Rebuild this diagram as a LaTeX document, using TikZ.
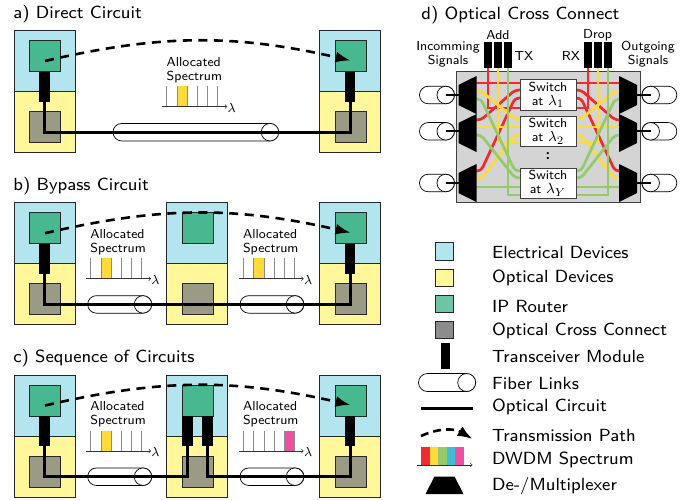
\documentclass[tikz,border=0pt]{standalone}
\usepackage{tikz}
\usetikzlibrary{calc,arrows,arrows.meta,shapes.geometric}
\definecolor{elecblue}{HTML}{B3E5EF}
\definecolor{optyellow}{HTML}{FFF799}
\definecolor{rtrgreen}{HTML}{47B88F}
\definecolor{oxcgray}{HTML}{9A9A85}
\definecolor{wred}{HTML}{EE2B30}
\definecolor{wyellow}{HTML}{FFDA3A}
\definecolor{wgreen}{HTML}{96C96B}
\definecolor{wblue}{HTML}{3FBDD8}
\definecolor{wpink}{HTML}{EF4F9F}
\tikzset{
    >=stealth',
    block/.style={
        rectangle,
        inner sep=0pt,
        draw=black!85,
        line width=0.9pt
    },
    elec/.style={block, fill=elecblue, minimum width=61pt, minimum height=61pt},
    opti/.style={block, fill=optyellow, minimum width=61pt, minimum height=61pt},
    rtr/.style={block, fill=rtrgreen, minimum width=31pt, minimum height=31pt},
    oxc/.style={block, fill=oxcgray, minimum width=31pt, minimum height=31pt},
    tranx/.style={rectangle, inner sep=0pt, fill=black, minimum width=10.7pt, minimum height=30pt},
    fibbody/.style={
        rectangle,
        inner sep=0pt,
        rounded corners=8.7pt,
        draw=black,
        fill=white,
        line width=0.7pt,
        minimum height=17.5pt
    },
    fibend/.style={circle, inner sep=0pt, draw=black, fill=white, line width=0.7pt, minimum size=17.5pt},
    circuit/.style={draw, line width=3pt, line join=miter},
    path/.style={draw, line width=2.6pt, dash pattern=on 9pt off 6.5pt, -{Latex[length=15pt,width=11pt]}},
    tick/.style={draw=black!45, line width=0.9pt},
    axis/.style={draw=black!80, line width=0.7pt, ->, >=to},
    dmx/.style={
        trapezium,
        trapezium stretches=true,
        trapezium angle=66,
        fill=black,
        inner sep=1pt,
        minimum width=38pt,
        minimum height=18pt
    },
    wire/.style={draw, line width=2.7pt},
    small/.style={font=\sffamily\fontsize{8}{8.5}\selectfont, scale=1.63, inner sep=0pt},
    switch/.style={
        rectangle,
        draw=black!75,
        fill=white,
        line width=0.9pt,
        minimum width=34.4pt,
        minimum height=18.7pt,
        align=center,
        small
    },
    title/.style={anchor=west, inner sep=0pt, font=\sffamily\fontsize{8}{9}\selectfont, scale=2.2},
    tiny/.style={small, align=center},
    legend/.style={title}
}
\newcommand{\lamsize}{\fontsize{9.5}{9.5}\selectfont}
\begin{document}
\begin{tikzpicture}[x=1pt, y=-1pt]
    \useasboundingbox (0,0) rectangle (696,499);
    \node[title] (ta) at (13,14) {a) Direct Circuit};
    \node[title] (tb) at (13,186) {b) Bypass Circuit};
    \node[title] (tc) at (13,358) {c) Sequence of Circuits};
    \node[title] (td) at (421,15) {d) Optical Cross Connect};

    \foreach \s/\x/\y in {a1/14/30.5, a2/319.5/30.5, b1/14/202.7, b2/166.5/202.7, b3/319.5/202.7, c1/14/375, c2/166.5/375, c3/319.5/375} {
        \node[elec] (elec\s) at ({\x+30.5},{\y+30.5}) {};
        \node[opti] (opti\s) at ({\x+30.5},{\y+91.5}) {};
        \node[rtr] (rtr\s) at ({\x+31},{\y+25.5}) {};
        \node[oxc] (oxc\s) at ({\x+31},{\y+96.5}) {};
    }
    \foreach \s/\x/\y in {a1/44.5/30.5, a2/350/30.5, b1/44.5/202.7, b3/350/202.7, c1/44.5/375, c3/350/375, c2l/187.5/375, c2r/207.5/375} {
        \node[tranx] (tr\s) at (\x,{\y+56}) {};
    }

    \foreach \n/\xa/\xb/\xc/\y in {a/113/278.5/270/30.5, b1/87.7/151.7/143/202.7, b2/240/304/295/202.7, c1/87.7/151.7/143/375, c2/240/304/295/375} {
        \node[fibbody, minimum width={(\xb-\xa)*1pt}] (fib\n) at ({(\xa+\xb)/2},{\y+101.7}) {};
        \node[fibend] (fibe\n) at (\xc,{\y+101.7}) {};
    }

    \foreach \n/\x/\y/\col/\t in {a/166.3/30.5/wyellow/11, b1/90/202.7/wyellow/11, b2/242.7/202.7/wyellow/11, c1/90/375/wyellow/11, c2/242.7/375/wpink/41} {
        \node[small, anchor=west, align=left] (spec\n) at (\x,{\y+39.5}) {Allocated\\Spectrum};
        \fill[\col] ({\x+\t},{\y+55.5}) rectangle ({\x+\t+10.5},{\y+76});
        \foreach \d in {0.5,11,21.5,31.5,41.5,51.5} {
            \draw[tick] ({\x+\d},{\y+55.5}) -- ({\x+\d},{\y+76});
        }
        \node[small, anchor=west] (lam\n) at ({\x+61},{\y+77}) {$\lambda$};
        \coordinate (axs\n) at ({\x-4},{\y+76});
        \draw[axis] (axs\n) -- (axs\n -| lam\n.west);
    }

    \draw[circuit] (tra1.south) |- (fiba.center) -| (tra2.south);
    \draw[circuit] (trb1.south) |- (fibb1.center) -- (fibb2.center) -| (trb3.south);
    \draw[circuit] (trc1.south) |- (fibc1.center) -| (trc2l.south);
    \draw[circuit] (trc2r.south) |- (fibc2.center) -| (trc3.south);

    \foreach \a/\b in {a1/a2, b1/b3, c1/c3} {
        \draw[path] ([yshift=-5pt]rtr\a.center) to[bend left=13] ([yshift=-4.5pt]rtr\b.center);
    }

    % optical cross connect
    \node[rectangle, draw=black!75, fill=black!17, line width=0.9pt, inner sep=0pt, minimum width=184pt, minimum height=131.5pt] (oxbox) at (548,137) {};
    \foreach \n/\x/\y in {L1/445.7/95, L2/445.7/131.3, L3/445.7/183} {
        \node[fibbody, minimum width=35pt] (fib\n) at (437,\y) {};
        \node[fibend] (fibe\n) at (\x,\y) {};
    }
    \foreach \n/\x/\y in {R1/650.7/95, R2/650.7/131.3, R3/650.7/183} {
        \node[fibbody, minimum width=35pt] (fib\n) at (659.3,\y) {};
        \node[fibend] (fibe\n) at (\x,\y) {};
    }
    \foreach \p/\y in {1/83, 2/91, 3/99, 4/120, 5/127, 6/135, 7/171, 8/179, 9/187} {
        \coordinate (l\p) at (476,\y);
        \coordinate (r\p) at (620,\y);
    }
    \foreach \p/\y in {1/83, 2/90, 3/98, 4/119, 5/127, 6/135, 7/171, 8/178, 9/187, 10/108, 11/143, 12/195} {
        \coordinate (s\p) at (521,\y);
        \coordinate (t\p) at (575,\y);
    }
    \foreach \n/\x in {R/488, Y/498, G/508} {
        \node[rectangle, fill=black, inner sep=0pt, minimum width=8.8pt, minimum height=25.5pt] (add\n) at (\x,55) {};
    }
    \foreach \n/\x in {R/588, Y/598, G/608} {
        \node[rectangle, fill=black, inner sep=0pt, minimum width=8.8pt, minimum height=25.5pt] (drop\n) at (\x,55) {};
    }
    \foreach \col/\n/\a/\b/\c in {wred/R/1/1/10, wred/R/4/2/10, wred/R/7/3/10, wyellow/Y/2/4/11, wyellow/Y/5/5/11, wyellow/Y/8/6/11, wgreen/G/3/7/12, wgreen/G/6/8/12, wgreen/G/9/9/12} {
        \draw[wire, \col, rounded corners=4pt] (l\a) -- ++(5,0) -- ($(s\b)+(-6,0)$) -- (s\b);
        \draw[wire, \col, rounded corners=4pt] (r\a) -- ++(-5,0) -- ($(t\b)+(6,0)$) -- (t\b);
        \draw[wire, \col] (add\n.south) |- (s\c);
        \draw[wire, \col] (drop\n.south) |- (t\c);
    }
    \node[dmx, rotate=90] (dmxL1) at (467.5,95) {};
    \node[dmx, rotate=90] (dmxL2) at (467.5,133) {};
    \node[dmx, rotate=90] (dmxL3) at (467.5,183) {};
    \node[dmx, rotate=-90] (dmxR1) at (628,95) {};
    \node[dmx, rotate=-90] (dmxR2) at (628,133) {};
    \node[dmx, rotate=-90] (dmxR3) at (628,183) {};
    \foreach \n in {L1,L2,L3,R1,R2,R3} {
        \draw[line width=1.8pt] (fibe\n.center) -- (fibe\n.center -| dmx\n.center);
    }
    \node[switch] (sw1) at (548,95) {Switch\\at {\lamsize$\lambda_1$}};
    \node[switch] (sw2) at (548,131.3) {Switch\\at {\lamsize$\lambda_2$}};
    \node[switch] (swY) at (548,183.3) {Switch\\at {\lamsize$\lambda_Y$}};
    \node[font=\sffamily\bfseries\fontsize{15}{15}\selectfont, inner sep=0pt] (dots) at (548,156) {:};
    \node[tiny] (add) at (498,35.5) {Add};
    \node[tiny] (drop) at (597.5,35.5) {Drop};
    \node[tiny] (tx) at (524,56) {TX};
    \node[tiny] (rx) at (571,56) {RX};
    \node[tiny] (inc) at (448,54.5) {Incomming\\Signals};
    \node[tiny] (out) at (648,54.5) {Outgoing\\Signals};

    % legend
    \node[block, fill=elecblue, minimum size=17.5pt] (lgelec) at (444.3,251.5) {};
    \node[block, fill=optyellow, minimum size=17.5pt] (lgopti) at (444.3,278) {};
    \node[block, fill=rtrgreen!80, minimum size=17.5pt] (lgrtr) at (444.3,304) {};
    \node[block, fill=black!45, minimum size=17.5pt] (lgoxc) at (444.3,330) {};
    \node[tranx, minimum width=9pt, minimum height=26pt] (lgtr) at (445.5,356.3) {};
    \node[fibbody, minimum width=57pt, minimum height=18pt, rounded corners=9pt] (lgfib) at (447,382.5) {};
    \node[fibend, minimum size=18pt] (lgfibe) at (466.7,382.5) {};
    \coordinate (lgca) at (421,408.3);
    \coordinate (lgcb) at (473,408.3);
    \draw[circuit] (lgca) -- (lgcb);
    \coordinate (lgpa) at (421,436);
    \coordinate (lgpb) at (472.5,439);
    \draw[path, dash pattern=on 8pt off 5pt] (lgpa) to[bend left=28] (lgpb);
    \foreach \x/\col in {421/wred, 429.6/wyellow, 438.2/wgreen, 446.8/wblue, 455.4/wpink} {
        \fill[\col] (\x,447.3) rectangle ({\x+8.6},464.5);
    }
    \coordinate (lgaa) at (416.5,465);
    \coordinate (lgab) at (472.5,465);
    \draw[axis] (lgaa) -- (lgab);
    \node[dmx, minimum height=17.5pt] (lgdmx) at (444.5,485.3) {};

    \node[legend] (txelec) at (491.7,252) {Electrical Devices};
    \node[legend] (txopti) at (491.7,278) {Optical Devices};
    \node[legend] (txrtr) at (491.7,306) {IP Router};
    \node[legend] (txoxc) at (491.7,330.5) {Optical Cross Connect};
    \node[legend] (txtr) at (491.7,356) {Transceiver Module};
    \node[legend] (txfib) at (491.7,383) {Fiber Links};
    \node[legend] (txcir) at (491.7,407) {Optical Circuit};
    \node[legend] (txpat) at (491.7,435) {Transmission Path};
    \node[legend] (txdw) at (491.7,459.5) {DWDM Spectrum};
    \node[legend] (txdmx) at (491.7,486) {De-/Multiplexer};
\end{tikzpicture}
\end{document}
